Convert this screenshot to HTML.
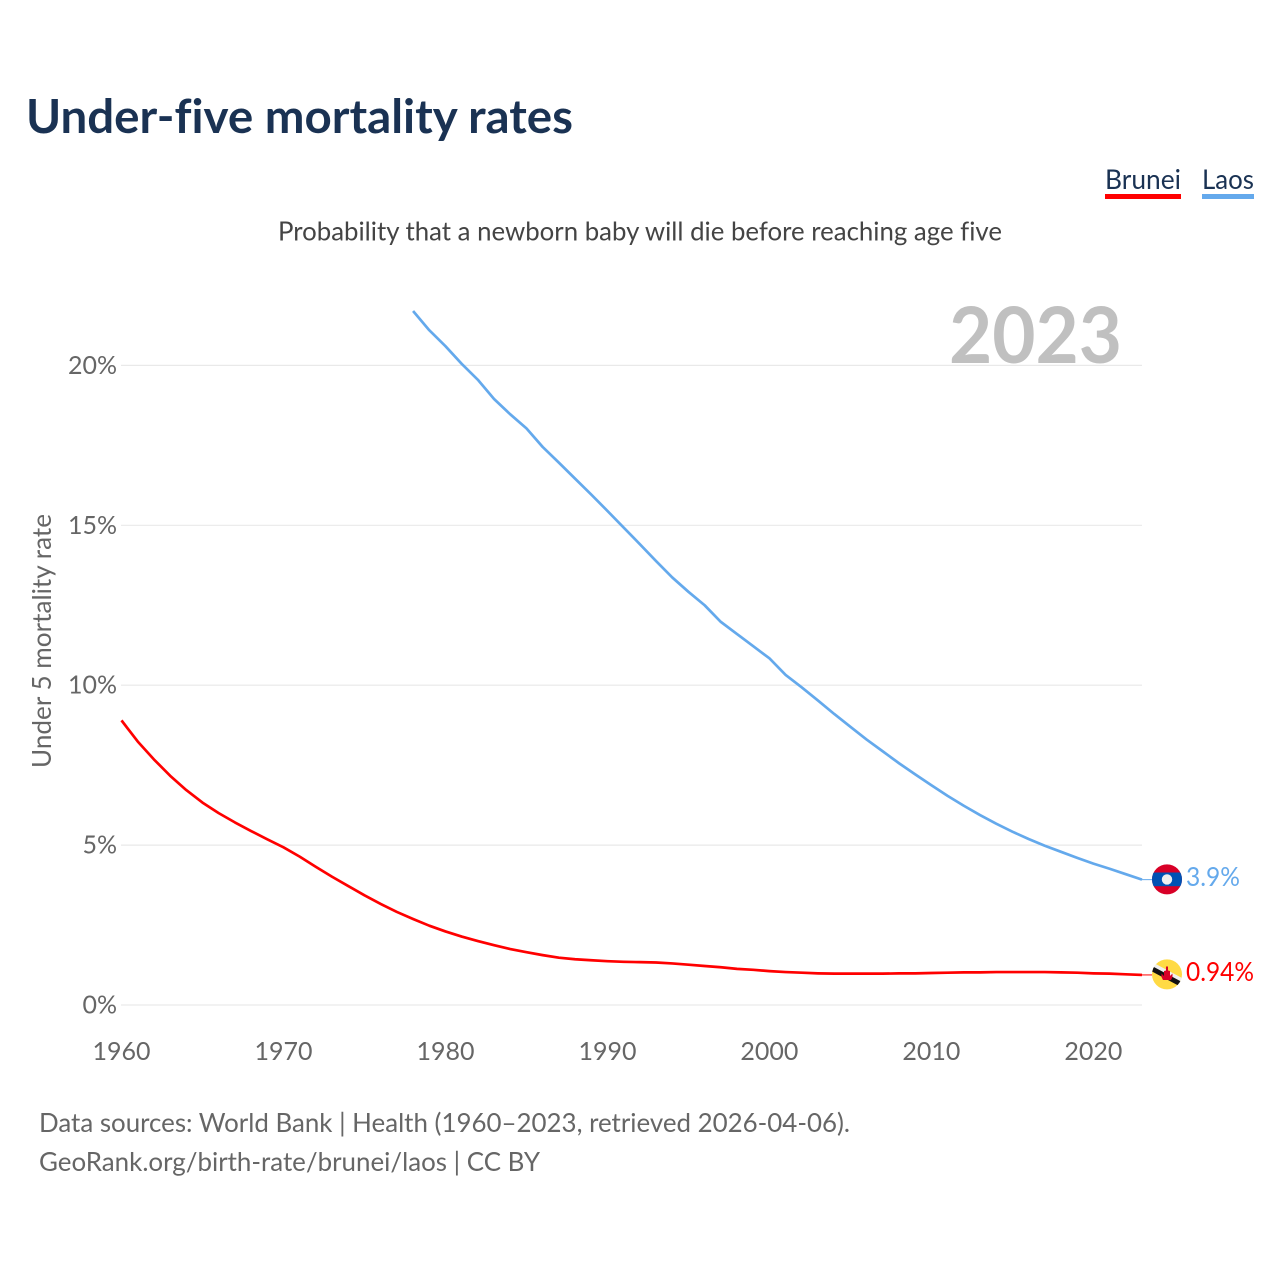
<!DOCTYPE html>
<html lang="en">
<head>
<meta charset="utf-8">
<title>Under-five mortality rates</title>
<style>
html,body{margin:0;padding:0;background:#fff;}
svg{display:block;font-family:"Lato","Liberation Sans",sans-serif;font-variant-ligatures:none;}
</style>
</head>
<body>
<svg id="chart" xmlns="http://www.w3.org/2000/svg" width="1280" height="1280" viewBox="0 0 1280 1280">
  <defs>
    <clipPath id="laos-clip"><circle cx="1167" cy="879.4" r="15"/></clipPath>
    <clipPath id="brunei-clip"><circle cx="1167" cy="974.4" r="15"/></clipPath>
  </defs>
  <rect width="1280" height="1280" fill="#fff"/>
  <text x="26" y="133" font-size="47" font-weight="700" fill="#1a3253" textLength="547" lengthAdjust="spacingAndGlyphs">Under-five mortality rates</text>
  <g>
    <g>
      <text x="1105" y="189" font-size="27" fill="#1a3253" textLength="76" lengthAdjust="spacingAndGlyphs">Brunei</text>
      <rect x="1105" y="194" width="76" height="5" fill="#ff0000"/>
    </g>
    <g>
      <text x="1202" y="189" font-size="27" fill="#1a3253" textLength="52" lengthAdjust="spacingAndGlyphs">Laos</text>
      <rect x="1202" y="194" width="52" height="5" fill="#64a9ec"/>
    </g>
  </g>
  <text x="278" y="240.5" font-size="26.5" fill="#444" textLength="724" lengthAdjust="spacingAndGlyphs">Probability that a newborn baby will die before reaching age five</text>
  <g id="grid"></g>
  <text x="949" y="363" font-size="78" font-weight="700" fill="#c0c0c0" textLength="173" lengthAdjust="spacingAndGlyphs">2023</text>
  <g id="y-ticks"></g>
  <g id="x-ticks"></g>
  <text transform="translate(51 641) rotate(-90)" text-anchor="middle" font-size="26.5" fill="#666" textLength="254" lengthAdjust="spacingAndGlyphs">Under 5 mortality rate</text>
  <path id="line-laos" fill="none" stroke="#64a9ec" stroke-width="2.7" stroke-linejoin="round"/>
  <path id="line-brunei" fill="none" stroke="#ff0000" stroke-width="2.7" stroke-linejoin="round"/>
  <line id="conn-laos" x1="1142" x2="1152" stroke="#64a9ec" stroke-width="1"/>
  <line id="conn-brunei" x1="1142" x2="1152" stroke="#ff0000" stroke-width="1"/>
  <g clip-path="url(#laos-clip)">
    <rect x="1152" y="864" width="30" height="31" fill="#d80027"/>
    <rect x="1152" y="872.5" width="30" height="13.7" fill="#0052b4"/>
    <circle cx="1167" cy="879.4" r="5.2" fill="#f0f0f0"/>
  </g>
  <g clip-path="url(#brunei-clip)">
    <rect x="1152" y="959" width="30" height="31" fill="#ffda44"/>
    <polygon points="1150,961 1150,967 1184,985 1184,979" fill="#f0f0f0"/>
    <polygon points="1150,965 1150,970.5 1184,988.5 1184,983" fill="#111"/>
    <path d="M1166 966.5h2v4l2 .5v5l2.500-2.500v3.500l-1.500 3h-8l-1.500-3v-3.500l2.500 2.500v-5l2-.5z" fill="#d80027"/>
  </g>
  <text x="1186" y="886" font-size="26" fill="#64a9ec" textLength="54" lengthAdjust="spacingAndGlyphs">3.9%</text>
  <text x="1186" y="981" font-size="26" fill="#ff0000" textLength="68" lengthAdjust="spacingAndGlyphs">0.94%</text>
  <text x="39" y="1132" font-size="26.5" fill="#666" textLength="811" lengthAdjust="spacingAndGlyphs">Data sources: World Bank | Health (1960–2023, retrieved 2026-04-06).</text>
  <text x="39" y="1171" font-size="26.5" fill="#666" textLength="501" lengthAdjust="spacingAndGlyphs">GeoRank.org/birth-rate/brunei/laos | CC BY</text>
</svg>
<script>
const bruneiStartYear = 1960;
const laosStartYear = 1978;
const xTickYears = [1960, 1970, 1980, 1990, 2000, 2010, 2020];
const yTickValues = [0, 5, 10, 15, 20];
const bruneiValues = [8.9, 8.24, 7.68, 7.17, 6.72, 6.33, 6.0, 5.71, 5.44, 5.18, 4.93, 4.64, 4.32, 4.01, 3.72, 3.43, 3.16, 2.91, 2.69, 2.48, 2.3, 2.14, 2.0, 1.87, 1.75, 1.65, 1.56, 1.48, 1.43, 1.4, 1.37, 1.35, 1.34, 1.33, 1.3, 1.26, 1.22, 1.18, 1.13, 1.1, 1.06, 1.03, 1.01, 0.99, 0.98, 0.98, 0.98, 0.98, 0.99, 0.99, 1.0, 1.01, 1.02, 1.02, 1.03, 1.03, 1.03, 1.03, 1.02, 1.01, 0.99, 0.98, 0.96, 0.94];
const laosValues = [21.7, 21.1, 20.6, 20.05, 19.55, 18.95, 18.47, 18.03, 17.45, 16.96, 16.46, 15.96, 15.45, 14.93, 14.41, 13.88, 13.37, 12.92, 12.5, 11.98, 11.6, 11.22, 10.84, 10.32, 9.93, 9.52, 9.1, 8.7, 8.3, 7.93, 7.56, 7.21, 6.87, 6.54, 6.23, 5.94, 5.67, 5.42, 5.19, 4.98, 4.79, 4.6, 4.42, 4.26, 4.09, 3.92];

const SVG_NS = 'http://www.w3.org/2000/svg';
function xScale(year) { return 121.5 + (year - 1960) * (1142 - 121.5) / 63; }
function yScale(pct) { return 1005 - pct * 31.98; }
function linePath(values, startYear) {
  return values.map(function (v, i) {
    return (i ? 'L' : 'M') + xScale(startYear + i).toFixed(2) + ' ' + yScale(v).toFixed(2);
  }).join('');
}
const gridGroup = document.getElementById('grid');
const yGroup = document.getElementById('y-ticks');
const xGroup = document.getElementById('x-ticks');
yTickValues.forEach(function (v) {
  const line = document.createElementNS(SVG_NS, 'line');
  
  
  line.setAttribute('x1', 121);
  line.setAttribute('x2', 1142);
  line.setAttribute('y1', yScale(v));
  line.setAttribute('y2', yScale(v));
  line.setAttribute('stroke', '#e9e9e9');
  line.setAttribute('stroke-width', '1.2');
  gridGroup.appendChild(line);
  const label = document.createElementNS(SVG_NS, 'text');
  
  
  label.setAttribute('x', 117);
  label.setAttribute('y', yScale(v) + 8.5);
  label.setAttribute('text-anchor', 'end');
  label.setAttribute('font-size', '25');
  label.setAttribute('fill', '#666');
  label.textContent = v + '%';
  yGroup.appendChild(label);
});
xTickYears.forEach(function (year) {
  const label = document.createElementNS(SVG_NS, 'text');
  
  
  label.setAttribute('x', xScale(year));
  label.setAttribute('y', 1060);
  label.setAttribute('text-anchor', 'middle');
  label.setAttribute('font-size', '25');
  label.setAttribute('fill', '#666');
  label.textContent = String(year);
  xGroup.appendChild(label);
});
document.getElementById('line-brunei').setAttribute('d', linePath(bruneiValues, bruneiStartYear));
document.getElementById('line-laos').setAttribute('d', linePath(laosValues, laosStartYear));
const lastLaos = yScale(laosValues[laosValues.length - 1]);
const lastBrunei = yScale(bruneiValues[bruneiValues.length - 1]);
const connLaos = document.getElementById('conn-laos');
connLaos.setAttribute('y1', lastLaos);
connLaos.setAttribute('y2', lastLaos);
const connBrunei = document.getElementById('conn-brunei');
connBrunei.setAttribute('y1', lastBrunei);
connBrunei.setAttribute('y2', lastBrunei);
</script>
</body>
</html>
